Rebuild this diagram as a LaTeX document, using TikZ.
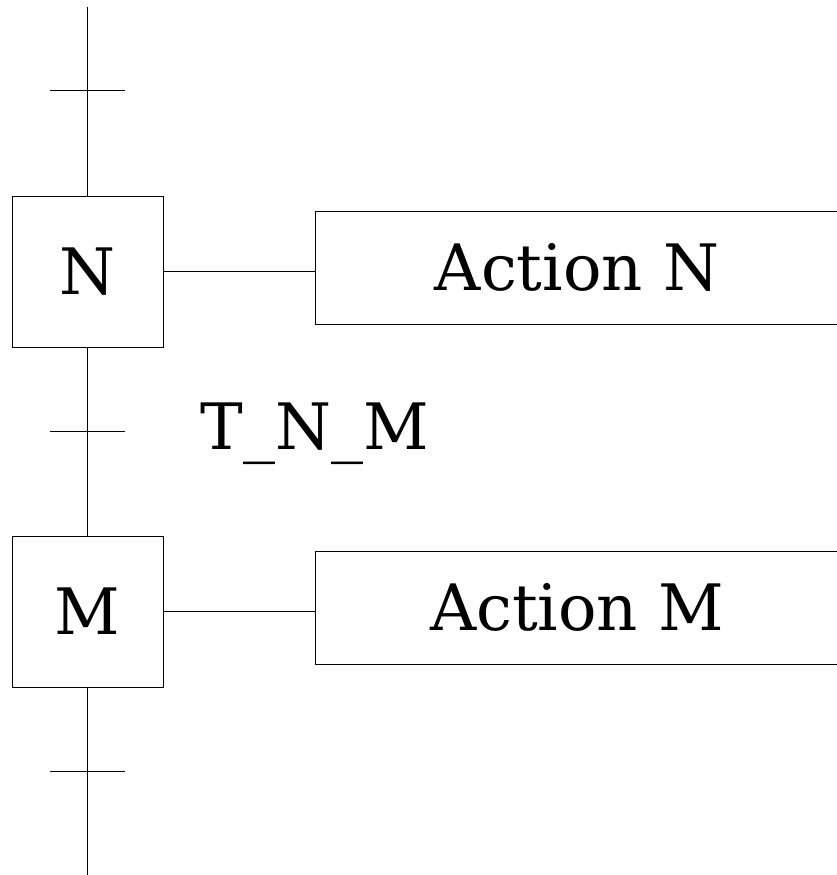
\documentclass[tikz,border=0pt]{standalone}
\usepackage{fontspec}
\setmainfont{DejaVu Serif}
\begin{document}
\begin{tikzpicture}[x=1pt,y=-1pt,line width=0.8pt,
  stepbox/.style={draw,minimum width=151pt,minimum height=151pt,inner sep=0pt,font=\fontsize{64}{76}\selectfont},
  actionbox/.style={draw,minimum width=524pt,minimum height=113pt,inner sep=0pt,font=\fontsize{64}{76}\selectfont},
  label/.style={inner sep=0pt,font=\fontsize{64}{76}\selectfont}]
\useasboundingbox (0,0) rectangle (837,875);
\clip (0,0) rectangle (837,875);
\node[stepbox] (N) at (87.5,271.5) {N};
\node[stepbox] (M) at (87.5,611.5) {M};
\node[actionbox] (AN) at (577,267.5) {Action N};
\node[actionbox] (AM) at (577,607.5) {Action M};
\node[label] (T) at (315,434) {T\_N\_M};
\coordinate (top) at (87.5,7);
\coordinate (bot) at (87.5,876);
\coordinate (t1l) at (50,90); \coordinate (t1r) at (125,90);
\coordinate (t2l) at (50,431); \coordinate (t2r) at (125,431);
\coordinate (t3l) at (50,771); \coordinate (t3r) at (125,771);
\draw (top) -- (N.north);
\draw (N.south) -- (M.north);
\draw (M.south) -- (bot);
\draw (t1l) -- (t1r);
\draw (t2l) -- (t2r);
\draw (t3l) -- (t3r);
\draw (N.east) -- (N.east -| AN.west);
\draw (M.east) -- (M.east -| AM.west);
\end{tikzpicture}
\end{document}
